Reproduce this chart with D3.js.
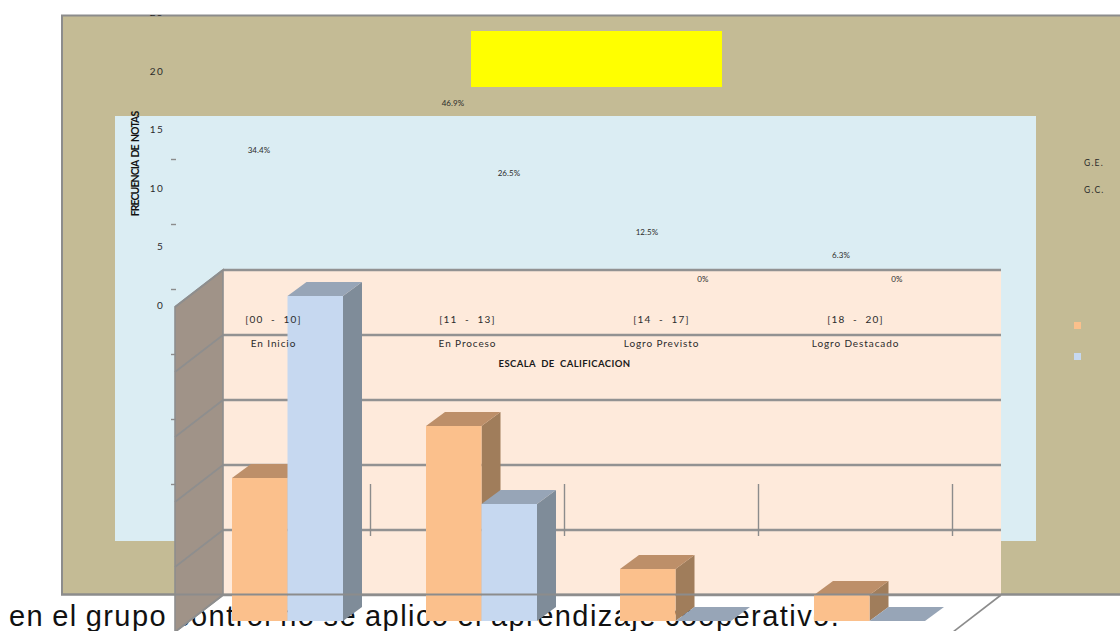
<!DOCTYPE html>
<html>
<head>
<meta charset="utf-8">
<script src="https://cdn.jsdelivr.net/npm/d3@7"></script>
<style>
html, body { margin: 0; padding: 0; background: #fff; overflow: hidden; }
svg { display: block; }
text { font-family: Lato, "Open Sans", sans-serif; fill: #2b2b2b; }
</style>
</head>
<body>
<div id="chart"></div>
<script>
const categories = ['[00  -  10]', '[11  -  13]', '[14  -  17]', '[18  -  20]'];
const levels = ['En Inicio', 'En Proceso', 'Logro Previsto', 'Logro Destacado'];
const seriesNames = ['G.E.', 'G.C.'];
const geValues = [11, 15, 4, 2];
const gcValues = [25, 9, 0, 0];
const gePercent = ['34.4%', '46.9%', '12.5%', '6.3%'];
const gcPercent = ['', '26.5%', '0%', '0%'];
const yTicks = [0, 5, 10, 15, 20, 25];
const sentence = 'en el grupo control no se aplico el aprendizaje cooperativo.';

const width = 1120, height = 631;
const wall = { left: 223, right: 1001, top: 270, bottom: 595, dx: 48, dy: 37 };
const depth = { dx: 19, dy: 14 };
const barW = 55.5;
const labelShift = -14;

const colors = {
    frame: '#C4BB95', plot: '#DBEDF3', back: '#FEEADB', side: '#A09388', grid: '#929292',
    ge: { front: '#FBC08C', top: '#BD8F69', side: '#A07D5B' },
    gc: { front: '#C6D8F0', top: '#97A5B7', side: '#7F8C99' }
};

const svg = d3.select('#chart').append('svg').attr('width', width).attr('height', height);

// the layers of the original are shifted against each other, so each has its own scale
const xBand = d3.scaleBand().domain(categories).range([190.5, 966.5]);
const yBar = d3.scaleLinear().domain([0, 25]).range([621, 296]);
const yWall = d3.scaleLinear().domain([0, 25]).range([wall.bottom, wall.top]);
const yLabel = d3.scaleLinear().domain([0, 25]).range([278.5, -14]);
const yAxisText = d3.scaleLinear().domain([0, 25]).range([305, 12.5]);
const yAxisTick = d3.scaleLinear().domain([0, 25]).range([484, 159]);

svg.append('defs').append('clipPath').attr('id', 'frame-clip')
    .append('rect').attr('x', 61).attr('y', 15).attr('width', 1059).attr('height', 579);

svg.append('rect').attr('x', 62).attr('y', 15.5).attr('width', 1070).attr('height', 579)
    .attr('fill', colors.frame).attr('stroke', '#8C8C8C').attr('stroke-width', 2);
svg.append('rect').attr('x', 115).attr('y', 116).attr('width', 921).attr('height', 425).attr('fill', colors.plot);
svg.append('rect').attr('x', 471).attr('y', 31).attr('width', 251).attr('height', 56).attr('fill', '#FFFF00');

svg.append('text').attr('x', 9).attr('y', 626)
    .style('font-family', '"Liberation Sans", Arial, sans-serif')
    .style('font-size', '29px').style('letter-spacing', '1.45px').style('word-spacing', '-1.5px').style('fill', '#111')
    .text(sentence);

// back wall and gridlines
svg.append('rect').attr('x', wall.left).attr('y', wall.top)
    .attr('width', wall.right - wall.left).attr('height', wall.bottom - wall.top).attr('fill', colors.back);

svg.append('g').selectAll('line').data(yTicks).enter().append('line')
    .attr('x1', wall.left).attr('x2', wall.right)
    .attr('y1', d => yWall(d)).attr('y2', d => yWall(d))
    .attr('stroke', colors.grid).attr('stroke-width', 2.4);

// floor outline
svg.append('line').attr('x1', wall.right).attr('y1', wall.bottom)
    .attr('x2', wall.right - wall.dx).attr('y2', wall.bottom + wall.dy)
    .attr('stroke', '#8C8C8C').attr('stroke-width', 1.6);

// side wall
svg.append('path')
    .attr('d', `M${wall.left},${wall.top}L${wall.left - wall.dx},${wall.top + wall.dy}L${wall.left - wall.dx},${wall.bottom + wall.dy}L${wall.left},${wall.bottom}Z`)
    .attr('fill', colors.side).attr('stroke', '#8E8E8E').attr('stroke-width', 1.6);

svg.append('g').selectAll('line').data(yTicks).enter().append('line')
    .attr('x1', wall.left).attr('x2', wall.left - wall.dx)
    .attr('y1', d => yWall(d)).attr('y2', d => yWall(d) + wall.dy)
    .attr('stroke', '#8E8E8E').attr('stroke-width', 1.6);

// bars, orange first so the blue one sits in front of its side face
const bars = [];
categories.forEach((c, i) => {
    bars.push({ cat: c, value: geValues[i], x: xBand(c) + xBand.bandwidth() / 2 - barW, col: colors.ge });
});
categories.forEach((c, i) => {
    bars.push({ cat: c, value: gcValues[i], x: xBand(c) + xBand.bandwidth() / 2, col: colors.gc });
});

const barG = svg.append('g').selectAll('g').data(bars).enter().append('g');

barG.append('path').attr('fill', d => d.col.side)
    .attr('d', d => {
        const r = d.x + barW, t = yBar(d.value), b = yBar(0);
        return `M${r},${t}L${r + depth.dx},${t - depth.dy}L${r + depth.dx},${b - depth.dy}L${r},${b}Z`;
    });
barG.append('path').attr('fill', d => d.col.top)
    .attr('d', d => {
        const r = d.x + barW, t = yBar(d.value);
        return `M${d.x},${t}L${d.x + depth.dx},${t - depth.dy}L${r + depth.dx},${t - depth.dy}L${r},${t}Z`;
    });
barG.append('rect').attr('fill', d => d.col.front)
    .attr('x', d => d.x).attr('width', barW)
    .attr('y', d => yBar(d.value)).attr('height', d => yBar(0) - yBar(d.value));

// the frame's bottom line lies over the wall and the bars
svg.append('line').attr('x1', 61).attr('x2', width).attr('y1', 594.5).attr('y2', 594.5)
    .attr('stroke', '#8C8C8C').attr('stroke-width', 2);

// value axis text, clipped by the frame like in the original
const axisG = svg.append('g').attr('clip-path', 'url(#frame-clip)').append('g')
    .attr('transform', 'translate(164,0)')
    .call(d3.axisLeft(yAxisText).tickValues(yTicks).tickSize(0).tickPadding(0));
axisG.select('.domain').remove();
axisG.selectAll('text').style('font-family', 'Lato, sans-serif').style('font-size', '10px')
    .style('letter-spacing', '1.3px').style('fill', '#2b2b2b');

const tickG = svg.append('g').attr('transform', 'translate(176,0)')
    .call(d3.axisLeft(yAxisTick).tickValues(yTicks).tickSize(5).tickFormat(''));
tickG.select('.domain').remove();
tickG.selectAll('line').attr('stroke', '#8C8C8C').attr('stroke-width', 1.4);

// category ticks
const tickXs = categories.map(c => xBand(c) + xBand.step() + labelShift);
svg.append('g').selectAll('line').data(tickXs).enter().append('line')
    .attr('x1', d => d).attr('x2', d => d).attr('y1', 484).attr('y2', 536)
    .attr('stroke', '#8C8C8C').attr('stroke-width', 1.4);

// category labels
const catCenter = c => xBand(c) + xBand.bandwidth() / 2 + labelShift;
svg.append('g').selectAll('text').data(categories).enter().append('text')
    .attr('x', d => catCenter(d)).attr('y', 323).attr('text-anchor', 'middle')
    .style('font-size', '10px').style('letter-spacing', '1.2px').style('white-space', 'pre')
    .text(d => d);
svg.append('g').selectAll('text').data(levels).enter().append('text')
    .attr('x', (d, i) => catCenter(categories[i])).attr('y', 347).attr('text-anchor', 'middle')
    .style('font-size', '10px').style('letter-spacing', '0.9px')
    .text(d => d);

svg.append('text').attr('x', 564.5).attr('y', 367).attr('text-anchor', 'middle')
    .style('font-size', '9.5px').style('font-weight', 700).style('letter-spacing', '0.4px').style('fill', '#1a1a1a')
    .style('white-space', 'pre').text('ESCALA  DE  CALIFICACION');

svg.append('text').attr('transform', 'translate(139,164) rotate(-90)').attr('text-anchor', 'middle')
    .style('font-size', '10.5px').style('font-weight', 700).style('letter-spacing', '-0.9px').style('fill', '#111')
    .style('white-space', 'pre').text('FRECUENCIA  DE  NOTAS');

// percent labels
const pctRows = [
    { texts: gePercent, values: geValues, off: -28 },
    { texts: gcPercent, values: gcValues, off: 28 }
];
pctRows.forEach(row => {
    svg.append('g').selectAll('text').data(categories).enter().append('text')
        .attr('x', d => xBand(d) + xBand.bandwidth() / 2 + row.off - 0.5)
        .attr('y', (d, i) => yLabel(row.values[i]) + 3)
        .attr('text-anchor', 'middle')
        .style('font-size', '8px').style('letter-spacing', '0.1px')
        .text((d, i) => row.texts[i]);
});

// legend, text and swatches are apart in the original
svg.append('g').selectAll('text').data(seriesNames).enter().append('text')
    .attr('x', 1084).attr('y', (d, i) => 166 + i * 27)
    .style('font-size', '8.5px').style('letter-spacing', '1.2px')
    .text(d => d);
svg.append('g').selectAll('rect').data([colors.ge.front, colors.gc.front]).enter().append('rect')
    .attr('x', 1074).attr('y', (d, i) => 322 + i * 31).attr('width', 7).attr('height', 7)
    .attr('fill', d => d);
</script>
</body>
</html>
